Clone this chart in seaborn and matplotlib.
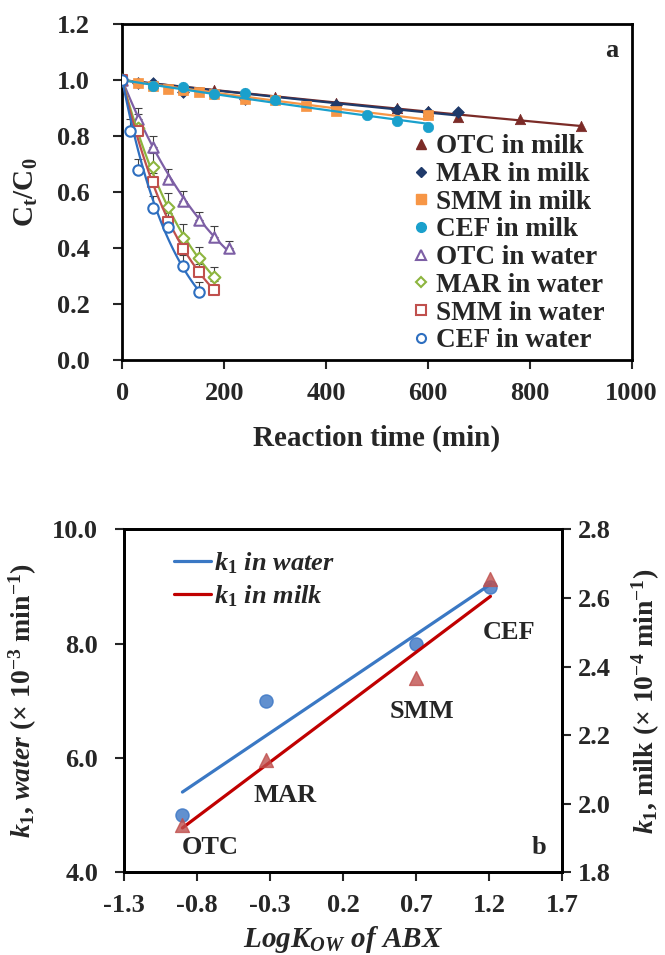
import numpy as np
import pandas as pd
import seaborn as sns
from matplotlib import pyplot as plt
from matplotlib.lines import Line2D

# ---- panel a: C_t/C_0 vs reaction time ----
otc_milk_t = [0, 60, 120, 180, 240, 300, 420, 540, 600, 660, 780, 900]
otc_milk_c = [1.0, 0.99, 0.975, 0.965, 0.955, 0.94, 0.917, 0.902, 0.89, 0.869, 0.86, 0.837]
mar_milk_t = [0, 30, 60, 120, 240, 420, 540, 600, 660]
mar_milk_c = [1.0, 0.99, 0.99, 0.958, 0.934, 0.91, 0.895, 0.887, 0.885]
smm_milk_t = [0, 30, 60, 90, 120, 150, 180, 240, 300, 360, 420, 600]
smm_milk_c = [1.0, 0.988, 0.978, 0.969, 0.965, 0.956, 0.95, 0.934, 0.93, 0.907, 0.89, 0.875]
cef_milk_t = [0, 60, 120, 180, 240, 300, 480, 540, 600]
cef_milk_c = [1.0, 0.979, 0.976, 0.952, 0.955, 0.929, 0.877, 0.855, 0.831]

otc_water_t = [0, 30, 60, 90, 120, 150, 180, 210]
otc_water_c = [1.0, 0.86, 0.76, 0.646, 0.568, 0.50, 0.44, 0.402]
otc_water_e = [0.0, 0.04, 0.04, 0.035, 0.035, 0.03, 0.04, 0.025]
mar_water_t = [0, 30, 60, 90, 120, 150, 180]
mar_water_c = [1.0, 0.83, 0.69, 0.548, 0.435, 0.365, 0.298]
mar_water_e = [0.0, 0.05, 0.05, 0.05, 0.05, 0.04, 0.035]
smm_water_t = [0, 30, 60, 90, 120, 150, 180]
smm_water_c = [1.0, 0.82, 0.637, 0.494, 0.399, 0.315, 0.252]
smm_water_e = [0.0, 0.03, 0.03, 0.03, 0.04, 0.03, 0.03]
cef_water_t = [0, 15, 30, 60, 90, 120, 150]
cef_water_c = [1.0, 0.82, 0.68, 0.545, 0.476, 0.335, 0.243]
cef_water_e = [0.0, 0.04, 0.04, 0.04, 0.04, 0.04, 0.035]

# ---- panel b: k1 vs LogKow ----
abx_names = ['OTC', 'MAR', 'SMM', 'CEF']
log_kow = [-0.90, -0.33, 0.70, 1.21]
k1_water = [5.0, 7.0, 8.0, 9.0]
k1_milk = [1.937, 2.127, 2.368, 2.657]

sns.set_style('ticks')
plt.rcParams['font.family'] = ['Liberation Serif', 'DejaVu Serif']
plt.rcParams['font.weight'] = 'bold'
plt.rcParams['axes.labelweight'] = 'bold'
plt.rcParams['mathtext.fontset'] = 'custom'
plt.rcParams['mathtext.rm'] = 'Liberation Serif:bold'
plt.rcParams['mathtext.bf'] = 'Liberation Serif:bold'
plt.rcParams['mathtext.it'] = 'Liberation Serif:italic:bold'
plt.rcParams['axes.linewidth'] = 2
plt.rcParams['axes.edgecolor'] = 'black'

fig = plt.figure(figsize=(6.65, 9.55), dpi=100)
ax = fig.add_axes([0.1839, 0.6227, 0.766, 0.3521])
ax2 = fig.add_axes([0.1865, 0.0864, 0.6586, 0.3592])

series = [
    ('OTC in milk', otc_milk_t, otc_milk_c, None, '#7B2B27', '^', True),
    ('MAR in milk', mar_milk_t, mar_milk_c, None, '#1F3A6A', 'D', True),
    ('SMM in milk', smm_milk_t, smm_milk_c, None, '#F79646', 's', True),
    ('CEF in milk', cef_milk_t, cef_milk_c, None, '#1AA0CC', 'o', True),
    ('OTC in water', otc_water_t, otc_water_c, otc_water_e, '#7D5FA5', '^', False),
    ('MAR in water', mar_water_t, mar_water_c, mar_water_e, '#8DB53F', 'D', False),
    ('SMM in water', smm_water_t, smm_water_c, smm_water_e, '#C0504D', 's', False),
    ('CEF in water', cef_water_t, cef_water_c, cef_water_e, '#2E6FC0', 'o', False),
]

handles = []
for i, (label, t, c, e, col, mk, filled) in enumerate(series):
    t = np.array(t, dtype=float)
    c = np.array(c, dtype=float)
    # first-order fit through C/C0 = 1 at t = 0
    k = -np.sum(t * np.log(c)) / np.sum(t ** 2)
    tf = np.linspace(0, t.max(), 100)
    sns.lineplot(x=tf, y=np.exp(-k * tf), ax=ax, color=col, lw=1.6, zorder=2 + i)
    if e is not None:
        ax.errorbar(t, c, yerr=[np.zeros_like(c), np.array(e)], fmt='none', ecolor='#404040',
                    elinewidth=0.8, capsize=3, capthick=0.8, zorder=1)
    msize = 6 if mk == 'D' else 7.5
    if filled:
        sns.scatterplot(x=t, y=c, ax=ax, marker=mk, color=col, s=msize ** 2, edgecolor=col,
                        linewidth=0.5, zorder=3 + i, legend=False)
        h = Line2D([], [], ls='none', marker=mk, color=col, markersize=msize - 0.5)
    else:
        sns.scatterplot(x=t, y=c, ax=ax, marker=mk, facecolor='white', edgecolor=col, s=msize ** 2,
                        linewidth=1.5, zorder=3 + i, legend=False)
        h = Line2D([], [], ls='none', marker=mk, markerfacecolor='white', markeredgecolor=col,
                   markeredgewidth=1.5, markersize=msize - 1)
    handles.append((h, label))

ax.set_xlim(0, 1000)
ax.set_ylim(0, 1.2)
ax.set_xticks(np.arange(0, 1001, 200))
ax.set_yticks(np.arange(0, 1.21, 0.2))
ax.set_yticklabels([f'{v:.1f}' for v in np.arange(0, 1.21, 0.2)])
ax.tick_params(axis='both', direction='out', length=6.5, width=1.5, labelsize=19)
ax.tick_params(axis='x', pad=9)
ax.tick_params(axis='y', pad=17)
ax.set_xlabel('Reaction time (min)', fontsize=21, fontweight='bold')
ax.set_ylabel(r'C$_{\mathrm{t}}$/C$_{\mathrm{0}}$', fontsize=21, fontweight='bold')
ax.xaxis.set_label_coords(0.5, -0.233)
ax.xaxis.label.set_va('center')
ax.yaxis.set_label_coords(-0.188, 0.5)
ax.yaxis.label.set_va('center')
ax.text(960, 1.107, 'a', fontsize=19, fontweight='bold', ha='center', va='center')
ax.legend([h for h, _ in handles], [l for _, l in handles], loc='upper left',
          bbox_to_anchor=(0.566, 0.672), frameon=False, fontsize=19.5, handlelength=0.8,
          handletextpad=0.15, labelspacing=0.1, borderpad=0, borderaxespad=0)

# ---- panel b ----
ax3 = ax2.twinx()
blue = '#3A78C4'
red = '#C00000'
sns.regplot(x=np.array(log_kow), y=np.array(k1_water), ax=ax2, ci=None, color=blue, marker='o',
            scatter_kws={'s': 90, 'color': '#3A75C4', 'zorder': 3},
            line_kws={'lw': 2.3, 'color': blue, 'zorder': 2})
sns.regplot(x=np.array(log_kow), y=np.array(k1_milk), ax=ax3, ci=None, color=red, marker='^',
            scatter_kws={'s': 100, 'color': '#C0504D', 'zorder': 3},
            line_kws={'lw': 2.3, 'color': red, 'zorder': 2})

ax2.set_xlim(-1.3, 1.7)
ax2.set_xticks([-1.3, -0.8, -0.3, 0.2, 0.7, 1.2, 1.7])
ax2.set_xticklabels(['-1.3', '-0.8', '-0.3', '0.2', '0.7', '1.2', '1.7'])
ax2.set_ylim(4.0, 10.0)
ax2.set_yticks([4, 6, 8, 10])
ax2.set_yticklabels(['4.0', '6.0', '8.0', '10.0'])
ax3.set_ylim(1.8, 2.8)
ax3.set_yticks(np.arange(1.8, 2.81, 0.2))
ax3.set_yticklabels([f'{v:.1f}' for v in np.arange(1.8, 2.81, 0.2)])
ax2.tick_params(axis='both', direction='out', length=6.5, width=1.5, labelsize=19)
ax2.tick_params(axis='x', pad=9)
ax2.tick_params(axis='y', pad=12)
ax3.tick_params(axis='y', direction='out', length=6.5, width=1.5, labelsize=19, pad=5)
for s in ax3.spines.values():
    s.set_linewidth(2)

ax2.set_xlabel(r'$LogK_{OW}\ of\ ABX$', fontsize=21)
ax2.xaxis.set_label_coords(0.5, -0.195)
ax2.xaxis.label.set_va('center')
ax2.set_ylabel(r'$k_{1}$, $water$ (× 10$^{-3}$ min$^{-1}$)', fontsize=20)
ax2.yaxis.set_label_coords(-0.231, 0.5)
ax2.yaxis.label.set_va('center')
ax3.set_ylabel(r'$k_{1}$, milk (× 10$^{-4}$ min$^{-1}$)', fontsize=20)
ax3.yaxis.set_label_coords(1.191, 0.5)
ax3.yaxis.label.set_va('center')

label_pos = {'OTC': (-0.712, 4.44), 'MAR': (-0.197, 5.34), 'SMM': (0.741, 6.81), 'CEF': (1.336, 8.19)}
for name in abx_names:
    x, y = label_pos[name]
    ax2.text(x, y, name, fontsize=19, fontweight='bold', ha='center', va='center')
ax2.text(1.54, 4.44, 'b', fontsize=19, fontweight='bold', ha='center', va='center')

leg_handles = [Line2D([], [], color=blue, lw=2.3), Line2D([], [], color=red, lw=2.3)]
ax3.legend(leg_handles, [r'$k_{1}\ in\ water$', r'$k_{1}\ in\ milk$'], loc='upper left',
           bbox_to_anchor=(0.115, 0.94), frameon=False, fontsize=19, handlelength=1.4,
           handletextpad=0.1, labelspacing=0.3, borderpad=0, borderaxespad=0)

fig.savefig('out.png', dpi=100)
